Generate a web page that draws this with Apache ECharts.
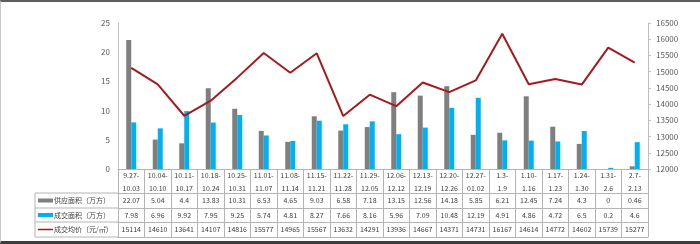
<!DOCTYPE html>
<html>
<head>
<meta charset="utf-8">
<script src="https://cdn.jsdelivr.net/npm/echarts@6/dist/echarts.min.js"></script>
<style>
html, body { margin: 0; padding: 0; background: #fff; }
#main { width: 700px; height: 244px; }
#frame {
  position: absolute; left: 0; top: 0; width: 700px; height: 244px;
  box-sizing: border-box; pointer-events: none;
  border-top: 2px solid #5e5e5e; border-bottom: 3px solid #3c3c3c; border-left: 1px solid #c8c8c8;
}
</style>
</head>
<body>
<div id="main"></div>
<div id="frame"></div>
<script>
var weeks = ['9.27-10.03', '10.04-10.10', '10.11-10.17', '10.18-10.24', '10.25-10.31',
  '11.01-11.07', '11.08-11.14', '11.15-11.21', '11.22-11.28', '11.29-12.05',
  '12.06-12.12', '12.13-12.19', '12.20-12.26', '12.27-01.02', '1.3-1.9',
  '1.10-1.16', '1.17-1.23', '1.24-1.30', '1.31-2.6', '2.7-2.13'];
var supplyArea = [22.07, 5.04, 4.4, 13.83, 10.31, 6.53, 4.65, 9.03, 6.58, 7.18,
  13.15, 12.56, 14.18, 5.85, 6.21, 12.45, 7.24, 4.3, 0, 0.46];
var dealArea = [7.98, 6.96, 9.92, 7.95, 9.25, 5.74, 4.81, 8.27, 7.66, 8.16,
  5.96, 7.09, 10.48, 12.19, 4.91, 4.86, 4.72, 6.5, 0.2, 4.6];
var avgPrice = [15114, 14610, 13641, 14107, 14816, 15577, 14965, 15567, 13632, 14291,
  13936, 14667, 14371, 14731, 16167, 14614, 14772, 14602, 15739, 15277];
var seriesNames = ['供应面积（万方）', '成交面积（万方）', '成交均价（元/㎡）'];

var gray = '#7f7f7f', blue = '#00b0f0', red = '#a31a1f';
var gridColor = '#b4b4b4', txt = '#404040', font = '"Noto Sans CJK SC", "Noto Sans", sans-serif';

// 表格的行：每一行是一根带偏移的 x 轴
function rowAxis(offset, values) {
  return {
    type: 'category', data: weeks, position: 'bottom', offset: offset,
    axisLine: { show: true, lineStyle: { color: gridColor, width: 1 } },
    axisTick: { show: false },
    axisLabel: {
      interval: 0, margin: 3, fontSize: 7, lineHeight: 9, color: txt, fontFamily: font,
      formatter: function (v, i) { return values ? String(values[i]) : ''; }
    }
  };
}

var rowLines = [193, 208, 222, 237];
var rowMid = [200.5, 215, 229.5];
var graphic = [];
rowLines.forEach(function (y) {
  graphic.push({ type: 'line', shape: { x1: 35, y1: y, x2: 118, y2: y }, style: { stroke: gridColor, lineWidth: 1 } });
});
graphic.push({ type: 'line', shape: { x1: 35, y1: 193, x2: 35, y2: 237 }, style: { stroke: gridColor, lineWidth: 1 } });
[gray, blue].forEach(function (c, i) {
  graphic.push({ type: 'rect', shape: { x: 38, y: rowMid[i] - 2, width: 15, height: 4 }, style: { fill: c } });
});
graphic.push({ type: 'line', shape: { x1: 38, y1: rowMid[2], x2: 53, y2: rowMid[2] }, style: { stroke: red, lineWidth: 1.5 } });
seriesNames.forEach(function (n, i) {
  graphic.push({ type: 'text', x: 54, y: rowMid[i],
    style: { text: n, fill: txt, fontSize: 7, fontFamily: font, verticalAlign: 'middle' } });
});

var myChart = echarts.init(document.getElementById('main'));
var option = {
  animation: false,
  grid: { left: 118, right: 52, top: 23, bottom: 75 },
  xAxis: [
    {
      type: 'category', data: weeks, position: 'bottom',
      axisLine: { show: true, lineStyle: { color: gridColor } },
      axisTick: { show: true, interval: 0, length: 68, lineStyle: { color: gridColor } },
      axisLabel: {
        interval: 0, margin: 0, fontSize: 7, lineHeight: 13, color: txt, fontFamily: font,
        formatter: function (v) { return v.replace('-', '-\n'); }
      }
    },
    rowAxis(24, supplyArea),
    rowAxis(39, dealArea),
    rowAxis(53, avgPrice),
    rowAxis(68, null)
  ],
  yAxis: [
    {
      type: 'value', min: 0, max: 25, interval: 5,
      axisLine: { show: true, lineStyle: { color: '#bfbfbf' } },
      axisTick: { show: false },
      splitLine: { show: false },
      axisLabel: { margin: 8, fontSize: 8, color: '#595959', fontFamily: font }
    },
    {
      type: 'value', min: 12000, max: 16500, interval: 500, position: 'right',
      axisLine: { show: true, lineStyle: { color: '#bfbfbf' } },
      axisTick: { show: true, length: 3, lineStyle: { color: '#bfbfbf' } },
      splitLine: { show: false },
      axisLabel: { margin: 8, fontSize: 8, color: '#595959', fontFamily: font,
        formatter: function (v) { return String(v); } }
    }
  ],
  graphic: graphic,
  series: [
    { name: seriesNames[0], type: 'bar', data: supplyArea, barWidth: 5, barGap: '0%', itemStyle: { color: gray } },
    { name: seriesNames[1], type: 'bar', data: dealArea, barWidth: 5, barGap: '0%', itemStyle: { color: blue } },
    { name: seriesNames[2], type: 'line', yAxisIndex: 1, data: avgPrice, showSymbol: false, symbol: 'none',
      lineStyle: { color: red, width: 2 }, z: 5 }
  ]
};
myChart.setOption(option);
</script>
</body>
</html>
